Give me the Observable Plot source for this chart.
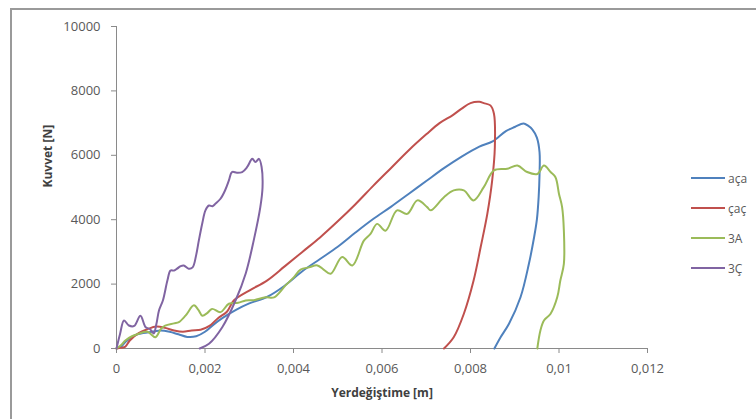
<!DOCTYPE html>
<html>
<head>
<meta charset="utf-8">
<script src="https://cdn.jsdelivr.net/npm/d3@7"></script>
<script src="https://cdn.jsdelivr.net/npm/@observablehq/plot@0.6"></script>
<style>
  html, body { margin: 0; padding: 0; background: #fff; }
  #wrap { position: relative; width: 756px; height: 419px; overflow: hidden; font-family: "Open Sans", sans-serif; }
  #border { position: absolute; left: 10px; top: 8px; width: 760px; height: 420px; border-left: 2px solid #9a9a9a; border-top: 2px solid #9a9a9a; box-sizing: border-box; pointer-events: none; }
  #legend { position: absolute; left: 691px; top: 163px; font-size: 12px; color: #595959; }
  #legend .item { height: 30px; display: flex; align-items: center; margin: 0; }
  #legend .sw { width: 34px; height: 2px; margin-right: 3px; }
</style>
</head>
<body>
<div id="wrap">
  <div id="chart"></div>
  <div id="border"></div>
  <div id="legend"></div>
</div>
<script>
// Series names and colours
const seriesNames = ["aça", "çaç", "3A", "3Ç"];
const seriesColors = ["#4F81BD", "#C0504D", "#9BBB59", "#8064A2"];

// Tick values
const xTicks = [0, 0.002, 0.004, 0.006, 0.008, 0.01, 0.012];
const yTicks = [0, 2000, 4000, 6000, 8000, 10000];

// aça
const acaX = [0, 0.0001, 0.0002, 0.0004, 0.0006, 0.0008, 0.001, 0.0012, 0.0014, 0.0016, 0.0018, 0.002, 0.0022, 0.0024, 0.0027, 0.003, 0.0034, 0.0038, 0.0042, 0.0046, 0.005, 0.0054, 0.0058, 0.0062, 0.0066, 0.007, 0.0074, 0.0078, 0.0082, 0.0085, 0.0088, 0.009, 0.0092, 0.0093, 0.0094, 0.0095, 0.00956, 0.00956, 0.00954, 0.0095, 0.00943, 0.00932, 0.00913, 0.00887, 0.00868, 0.00854];
const acaY = [0, 50, 200, 400, 480, 520, 560, 520, 440, 360, 380, 520, 750, 950, 1200, 1400, 1600, 1950, 2400, 2780, 3160, 3600, 4020, 4400, 4800, 5200, 5600, 5960, 6270, 6430, 6750, 6880, 6990, 6920, 6800, 6550, 6100, 5400, 4700, 4000, 3400, 2630, 1590, 770, 350, 0];

// çaç
const cacX = [0, 0.0001, 0.0002, 0.0003, 0.0005, 0.0007, 0.0009, 0.0011, 0.0013, 0.0015, 0.0017, 0.0019, 0.0021, 0.0023, 0.0025, 0.00265, 0.003, 0.0034, 0.0038, 0.0042, 0.0046, 0.005, 0.0054, 0.0058, 0.0062, 0.0066, 0.007, 0.0073, 0.0076, 0.0078, 0.008, 0.0082, 0.0083, 0.00845, 0.00853, 0.00855, 0.00849, 0.00838, 0.00823, 0.00807, 0.00785, 0.00762, 0.0074];
const cacY = [0, 20, 60, 250, 480, 600, 680, 640, 560, 520, 560, 580, 700, 950, 1150, 1490, 1800, 2110, 2550, 3000, 3450, 3950, 4480, 5050, 5600, 6150, 6650, 7000, 7250, 7450, 7620, 7660, 7620, 7550, 7290, 6250, 5220, 4180, 3150, 2110, 1080, 350, 0];

// 3A
const a3X = [0, 0.0001, 0.0002, 0.00035, 0.0005, 0.0007, 0.00088, 0.001, 0.0011, 0.0013, 0.00141, 0.00156, 0.00175, 0.00185, 0.00194, 0.00205, 0.00216, 0.00235, 0.00254, 0.00275, 0.00292, 0.0031, 0.00337, 0.00356, 0.00382, 0.004, 0.00416, 0.00435, 0.00454, 0.00468, 0.00484, 0.0051, 0.00533, 0.00559, 0.00574, 0.00589, 0.00608, 0.00634, 0.00657, 0.0068, 0.00702, 0.0071, 0.0074, 0.00762, 0.00785, 0.00807, 0.0083, 0.00853, 0.00883, 0.00906, 0.00928, 0.00951, 0.00966, 0.00981, 0.00992, 0.01, 0.01007, 0.01011, 0.01011, 0.01003, 0.00996, 0.00981, 0.00966, 0.00958, 0.00951];
const a3Y = [0, 100, 250, 380, 460, 520, 350, 600, 710, 780, 820, 1020, 1340, 1200, 1020, 1100, 1230, 1130, 1390, 1420, 1490, 1500, 1590, 1590, 1960, 2200, 2450, 2520, 2580, 2450, 2320, 2840, 2580, 3350, 3560, 3870, 3660, 4290, 4180, 4600, 4390, 4290, 4700, 4910, 4910, 4600, 5010, 5530, 5580, 5680, 5480, 5420, 5680, 5480, 5320, 4800, 4390, 3660, 2630, 2110, 1590, 1080, 870, 560, 0];

// 3Ç
const c3X = [0, 0.00008, 0.00017, 0.00028, 0.0004, 0.00054, 0.00066, 0.00076, 0.00084, 0.0009, 0.00096, 0.00105, 0.00115, 0.00122, 0.0013, 0.00137, 0.00145, 0.00152, 0.00163, 0.00172, 0.0018, 0.00186, 0.00194, 0.00201, 0.00209, 0.00217, 0.00224, 0.00235, 0.00245, 0.00254, 0.00261, 0.00272, 0.00284, 0.00295, 0.00307, 0.00314, 0.00322, 0.00328, 0.0033, 0.00325, 0.0031, 0.00292, 0.00269, 0.00239, 0.00209, 0.00188];
const c3Y = [0, 450, 870, 714, 700, 1020, 660, 600, 466, 750, 1180, 1500, 2110, 2420, 2420, 2480, 2560, 2580, 2480, 2520, 2900, 3350, 3900, 4290, 4440, 4420, 4500, 4650, 4900, 5220, 5480, 5460, 5480, 5630, 5890, 5790, 5890, 5630, 5000, 4390, 3350, 2330, 1490, 660, 146, 0];

const seriesX = [acaX, cacX, a3X, c3X];
const seriesY = [acaY, cacY, a3Y, c3Y];

const data = [];
seriesNames.forEach((name, i) => {
  seriesX[i].forEach((x, j) => data.push({series: name, x, y: seriesY[i][j]}));
});

const fmtX = d => d === 0 ? "0" : String(+d.toFixed(3)).replace(".", ",");
const axisGray = "#8a8a8a";
const textGray = "#595959";

const chart = Plot.plot({
  width: 756,
  height: 419,
  marginLeft: 116,
  marginRight: 109,
  marginTop: 26,
  marginBottom: 71,
  style: { fontFamily: "'Open Sans', sans-serif", fontSize: "13px", color: textGray, background: "transparent" },
  x: { domain: [0, 0.012] },
  y: { domain: [0, 10000] },
  color: { domain: seriesNames, range: seriesColors },
  marks: [
    Plot.ruleY([0], { stroke: axisGray, strokeWidth: 1 }),
    Plot.ruleX([0], { stroke: axisGray, strokeWidth: 1 }),
    Plot.axisX({ ticks: xTicks, tickFormat: fmtX, tickSize: 5, tickPadding: 10, stroke: axisGray, fill: textGray, label: null }),
    Plot.axisY({ ticks: yTicks, tickFormat: d => String(d), tickSize: 5, tickPadding: 11, stroke: axisGray, fill: textGray, label: null }),
    Plot.line(data, { x: "x", y: "y", z: "series", stroke: "series", strokeWidth: 2, curve: "catmull-rom" }),
    Plot.text(["Yerdeğiştime [m]"], { frameAnchor: "bottom", dy: 48, text: d => d, fontWeight: "bold", fontSize: 12, fill: "#404040" }),
    Plot.text(["Kuvvet [N]"], { frameAnchor: "left", dx: -68, rotate: -90, text: d => d, fontWeight: "bold", fontSize: 12, fill: "#404040" })
  ]
});
document.getElementById("chart").appendChild(chart);

const legend = d3.select("#legend");
seriesNames.forEach((name, i) => {
  const item = legend.append("div").attr("class", "item");
  item.append("div").attr("class", "sw").style("background", seriesColors[i]);
  item.append("span").text(name);
});
</script>
</body>
</html>
